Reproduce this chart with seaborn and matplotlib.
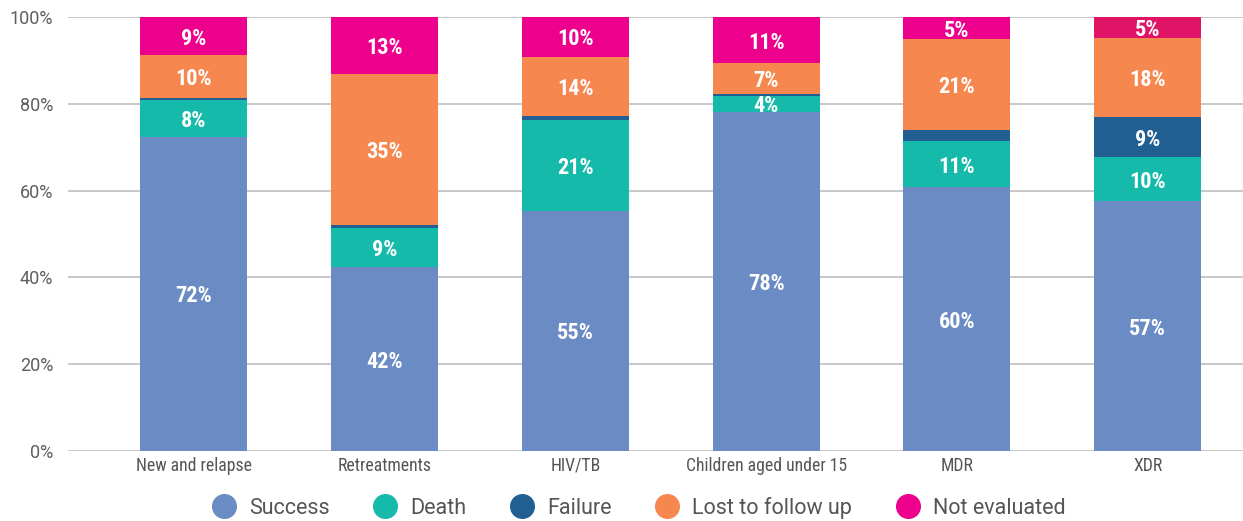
import pandas as pd
import numpy as np
import matplotlib.pyplot as plt
from matplotlib.lines import Line2D
import seaborn as sns

# Treatment outcomes per cohort (percent)
groups = ["New and relapse", "Retreatments", "HIV/TB", "Children aged under 15", "MDR", "XDR"]
success = [72.4, 42.3, 55.3, 78.2, 60.8, 57.6]
death = [8.4, 9.0, 21.0, 3.6, 10.6, 10.1]
failure = [0.6, 0.8, 0.9, 0.4, 2.5, 9.3]
lost = [9.8, 34.8, 13.6, 7.2, 21.0, 18.2]
not_evaluated = [8.8, 13.1, 9.2, 10.6, 5.1, 4.8]

# label text shown inside each segment (None = too thin, no label)
success_lbl = ["72%", "42%", "55%", "78%", "60%", "57%"]
death_lbl = ["8%", "9%", "21%", "4%", "11%", "10%"]
failure_lbl = [None, None, None, None, None, "9%"]
lost_lbl = ["10%", "35%", "14%", "7%", "21%", "18%"]
ne_lbl = ["9%", "13%", "10%", "11%", "5%", "5%"]

series = ["Success", "Death", "Failure", "Lost to follow up", "Not evaluated"]
colors = ["#6A8BC3", "#15BAAA", "#215F92", "#F5874F", "#EC008C"]
xdr_ne_color = "#DF1467"

values = [success, death, failure, lost, not_evaluated]
labels = [success_lbl, death_lbl, failure_lbl, lost_lbl, ne_lbl]

sns.set_style("white")
cond = ["Roboto Condensed", "Liberation Sans Narrow", "Roboto", "DejaVu Sans"]
plt.rcParams["font.family"] = ["Roboto", "DejaVu Sans"]

fig = plt.figure(figsize=(12.43, 5.21), dpi=100)
ax = fig.add_axes([68 / 1243, 70 / 521, 1 - 68 / 1243, 434 / 521])

cum = np.cumsum(np.array(values), axis=0)

# draw cumulative totals from the top layer down so each segment shows
for i in range(len(series) - 1, -1, -1):
    df = pd.DataFrame({"group": groups, "value": cum[i]})
    pal = [colors[i]] * len(groups)
    if i == 4:
        pal[-1] = xdr_ne_color
    sns.barplot(data=df, x="group", y="value", hue="group", palette=pal,
                legend=False, width=0.56, saturation=1, linewidth=0,
                ax=ax, zorder=3)

# segment labels
for i in range(len(series)):
    for j in range(len(groups)):
        txt = labels[i][j]
        if txt is None:
            continue
        bottom = cum[i][j] - values[i][j]
        ax.text(j, bottom + values[i][j] / 2, txt, ha="center", va="center_baseline",
                color="white", fontsize=16, fontweight="bold", family=cond, zorder=4)

ax.set_ylim(0, 100)
ax.set_xlim(-0.66, 5.5)
ax.set_yticks(range(0, 101, 20))
ax.set_yticklabels([f"{v}%" for v in range(0, 101, 20)], fontsize=13, color="#5f5f5f")
ax.yaxis.grid(True, color="#c4c4c4", linewidth=1.3, zorder=0)
ax.set_axisbelow(True)
for lbl in ax.get_xticklabels():
    lbl.set_family(cond)
    lbl.set_fontsize(12.7)
    lbl.set_color("#555555")
ax.tick_params(axis="x", length=0, pad=4)
ax.tick_params(axis="y", length=0, pad=10.5)
ax.set_xlabel("")
ax.set_ylabel("")
sns.despine(ax=ax, left=True, bottom=True, right=True, top=True)

handles = [Line2D([0], [0], marker="o", linestyle="", markersize=17,
                  markerfacecolor=c, markeredgecolor=c) for c in colors]
fig.legend(handles, series, loc="center", bbox_to_anchor=(0.51, 0.025), ncol=5,
           frameon=False, fontsize=15.5, labelcolor="#555555", handletextpad=0.15,
           columnspacing=1.6)

fig.savefig("out.png", dpi=100)
